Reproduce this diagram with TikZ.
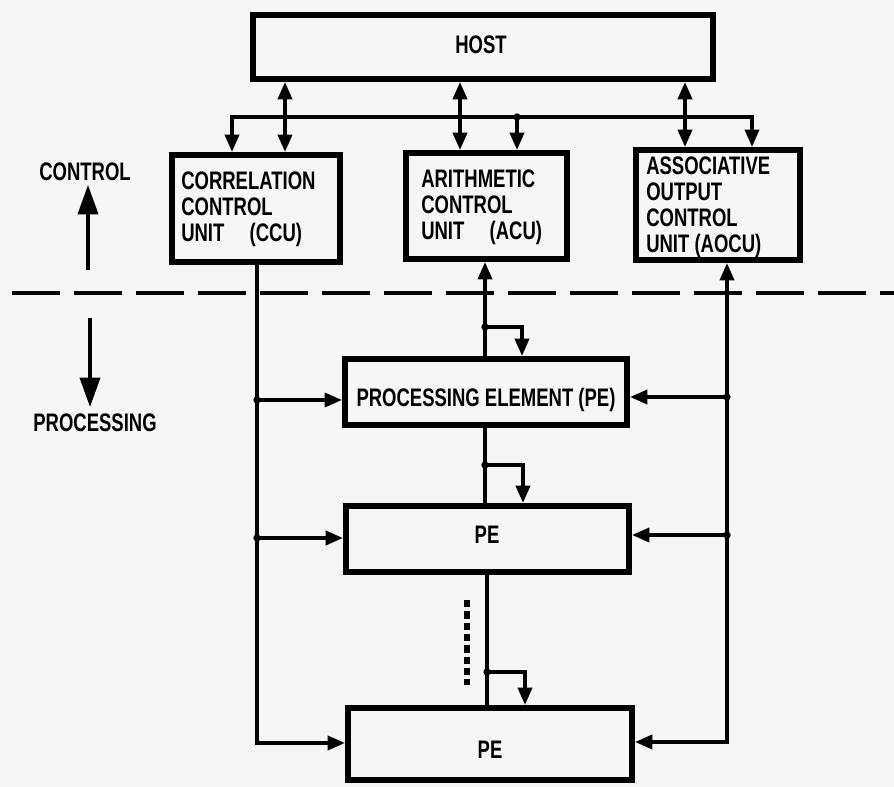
\documentclass[tikz,border=0pt]{standalone}
\usepackage{fontspec}
\setmainfont[FakeStretch=0.73]{Liberation Sans}
\usetikzlibrary{arrows.meta}
\definecolor{paper}{RGB}{246,246,246}
\begin{document}
\begin{tikzpicture}[x=0.75pt,y=-0.75pt,
  box/.style={draw, line width=4.5pt, rectangle, inner sep=0pt},
  lbl/.style={font=\fontsize{19pt}{19.5pt}\selectfont\bfseries, inner sep=0pt, align=left},
  conn/.style={line width=2.7pt, line join=miter},
  >={Triangle[length=13pt,width=10.5pt]},
  big/.style={line width=2.7pt, -{Triangle[length=22pt,width=15pt]}},
  dot/.style={circle, fill, inner sep=0pt, minimum size=5.5pt},
  divider/.style={line width=3pt, dash pattern=on 36pt off 10.5pt},
  ellip/.style={line width=3.8pt, dash pattern=on 5.5pt off 3pt},
]
\fill[paper] (0,0) rectangle (894,787);
\useasboundingbox (0,0) rectangle (894,787);

% boxes
\node[box, minimum width=345pt, minimum height=48pt] (host) at (483,47) {};
\node[box, minimum width=126pt, minimum height=80.25pt] (ccu) at (256,208.5) {};
\node[box, minimum width=120.75pt, minimum height=79.5pt] (acu) at (486.5,206) {};
\node[box, minimum width=123pt, minimum height=82.5pt] (aocu) at (718,205) {};
\node[box, minimum width=211.5pt, minimum height=49.5pt] (pe1) at (486,392) {};
\node[box, minimum width=212.25pt, minimum height=49.5pt] (pe2) at (487.5,539) {};
\node[box, minimum width=213pt, minimum height=54pt] (pe3) at (490,744) {};

% labels
\node[lbl] (hostt) at (481,45) {HOST};
\node[lbl, anchor=west] (ccut) at (181,209) {CORRELATION\\CONTROL\\UNIT\quad(CCU)};
\node[lbl, anchor=west] (acut) at (421,207) {ARITHMETIC\\CONTROL\\UNIT\quad(ACU)};
\node[lbl, anchor=west] (aocut) at (646,207) {ASSOCIATIVE\\OUTPUT\\CONTROL\\UNIT (AOCU)};
\node[lbl] (pe1t) at (486,400) {PROCESSING ELEMENT (PE)};
\node[lbl] (pe2t) at (487,535) {PE};
\node[lbl] (pe3t) at (490,750) {PE};
\node[lbl] (ctl) at (85,172) {CONTROL};
\node[lbl] (proc) at (95,423) {PROCESSING};

% control / processing divider
\coordinate (d0) at (12,293);
\coordinate (d1) at (894,293);
\draw[divider] (d0) -- (d1);
\coordinate (ca) at (88,270);
\coordinate (ct) at (88,185);
\draw[big] (ca) -- (ct);
\coordinate (pa) at (90,318);
\coordinate (pt) at (90,407);
\draw[big] (pa) -- (pt);

% host links
\coordinate (xa) at (285,0);
\coordinate (xb) at (460,0);
\coordinate (xc) at (685,0);
\draw[conn,<->] (host.south -| xa) -- (ccu.north -| xa);
\draw[conn,<->] (host.south -| xb) -- (acu.north -| xb);
\draw[conn,<->] (host.south -| xc) -- (aocu.north -| xc);

% control bus
\coordinate (bl) at (232,117);
\coordinate (bm) at (517,117);
\coordinate (br) at (752,117);
\draw[conn,<->] (ccu.north -| bl) -- (bl) -- (br) -- (aocu.north -| br);
\draw[conn,->] (bm) -- (acu.north -| bm);
\node[dot] (dbm) at (bm) {};

% left bus from CCU
\coordinate (lb) at (257,743);
\draw[conn,->] (ccu.south -| lb) -- (lb) -- (pe3.west |- lb);
\coordinate (l1) at (257,400);
\coordinate (l2) at (257,538);
\draw[conn,->] (l1) -- (pe1.west |- l1);
\draw[conn,->] (l2) -- (pe2.west |- l2);
\node[dot] (dl1) at (l1) {};
\node[dot] (dl2) at (l2) {};

% right bus to AOCU
\coordinate (rb) at (727,742);
\draw[conn,<->] (aocu.south -| rb) -- (rb) -- (pe3.east |- rb);
\coordinate (r1) at (727,397);
\coordinate (r2) at (727,535);
\draw[conn,->] (r1) -- (pe1.east |- r1);
\draw[conn,->] (r2) -- (pe2.east |- r2);
\node[dot] (dr1) at (r1) {};
\node[dot] (dr2) at (r2) {};

% ACU chain
\coordinate (c0) at (485,327);
\coordinate (c0b) at (522,327);
\draw[conn,->] (pe1.north -| c0) -- (acu.south -| c0);
\draw[conn,->] (c0) -- (c0b) -- (pe1.north -| c0b);
\node[dot] (dc0) at (c0) {};

\coordinate (c1) at (485,465);
\coordinate (c1b) at (523,465);
\draw[conn] (pe1.south -| c1) -- (pe2.north -| c1);
\draw[conn,->] (c1) -- (c1b) -- (pe2.north -| c1b);
\node[dot] (dc1) at (c1) {};

\coordinate (c2) at (487,672);
\coordinate (c2b) at (525,672);
\draw[conn] (pe2.south -| c2) -- (pe3.north -| c2);
\draw[conn,->] (c2) -- (c2b) -- (pe3.north -| c2b);
\node[dot] (dc2) at (c2) {};

% ellipsis between PEs
\coordinate (e1) at (467,600);
\coordinate (e2) at (467,685);
\draw[ellip] (e1) -- (e2);
\end{tikzpicture}
\end{document}
